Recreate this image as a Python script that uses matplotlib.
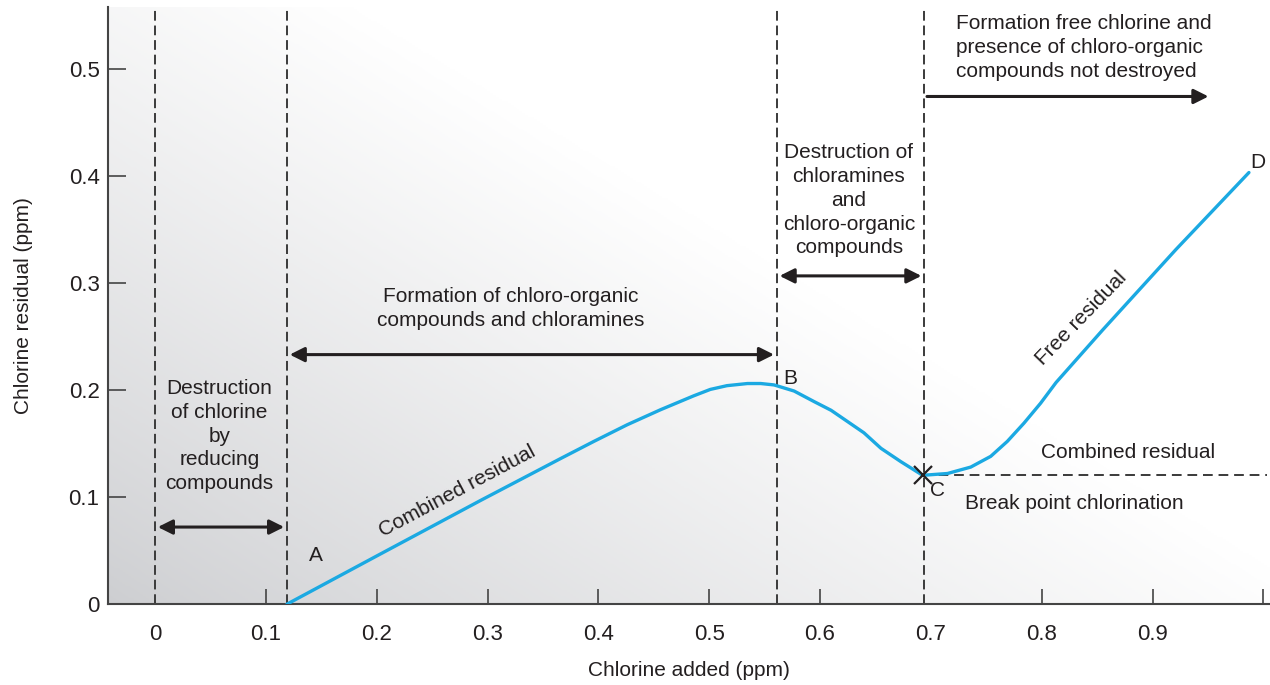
import matplotlib
matplotlib.use("Agg")
import matplotlib.pyplot as plt
import numpy as np
from matplotlib.colors import LinearSegmentedColormap

plt.rcParams['font.family'] = ['Liberation Sans', 'DejaVu Sans']

# curve (chlorine added, chlorine residual)
curve_x = [0.119, 0.200, 0.294, 0.366, 0.396, 0.426, 0.456, 0.486, 0.501, 0.516,
           0.5345, 0.5465, 0.5585, 0.5766, 0.5949, 0.610, 0.6396, 0.655, 0.673, 0.6926,
           0.715, 0.736, 0.754, 0.769, 0.784, 0.799, 0.813, 0.855, 0.921, 0.987]
curve_y = [0.0, 0.045, 0.097, 0.136, 0.152, 0.1675, 0.1815, 0.1945, 0.2005, 0.204,
           0.206, 0.206, 0.2047, 0.199, 0.189, 0.181, 0.160, 0.1455, 0.133, 0.1203,
           0.122, 0.128, 0.138, 0.152, 0.169, 0.1876, 0.207, 0.256, 0.331, 0.403]

zone_lines = [0.0, 0.119, 0.561, 0.694]
break_x, break_y = 0.6926, 0.1203

xtick_marks = [0.1, 0.2, 0.3, 0.4, 0.5, 0.6, 0.8, 0.9, 1.0]
xtick_pos = [0, 0.1, 0.2, 0.3, 0.4, 0.5, 0.6, 0.7, 0.8, 0.9]
xtick_labels = ['0', '0.1', '0.2', '0.3', '0.4', '0.5', '0.6', '0.7', '0.8', '0.9']
ytick_pos = [0, 0.1, 0.2, 0.3, 0.4, 0.5]
ytick_labels = ['0', '0.1', '0.2', '0.3', '0.4', '0.5']

ink = '#231f20'
blue = '#1ba9e2'

fig = plt.figure(figsize=(12.7, 6.85), dpi=100)
ax = fig.add_axes([0.085, 0.118, 0.915, 0.8725])
ax.set_xlim(-0.0425, 1.006)
ax.set_ylim(0, 0.558)

# grey background fading to white towards the top right
u = np.linspace(0, 1, 400)
v = np.linspace(0, 1, 300)
U, V = np.meshgrid(u, v)
t = np.clip(0.95 * U + 0.8 * V, 0, 1) ** 0.85
cm = LinearSegmentedColormap.from_list('bg', ['#cdced1', '#ffffff'])
ax.imshow(t, cmap=cm, origin='lower', extent=(0, 1, 0, 1), transform=ax.transAxes,
          aspect='auto', zorder=0, vmin=0, vmax=1)

for xv in zone_lines:
    ax.axvline(xv, color='#3a3a3a', lw=1.4, dashes=(5, 2.5), zorder=2)

ax.plot([break_x, 1.003], [break_y, break_y], color='#3a3a3a', lw=1.4, dashes=(5, 3), zorder=2)
ax.plot(curve_x, curve_y, color=blue, lw=2.4, zorder=3, solid_capstyle='round',
        solid_joinstyle='round')
ax.plot([break_x], [break_y], marker='x', ms=13, mew=1.6, color=ink, zorder=4)

def arrow(x0, x1, y, both=True):
    ax.annotate('', xy=(x1, y), xytext=(x0, y),
                arrowprops=dict(arrowstyle='<|-|>' if both else '-|>', color=ink, lw=2.2,
                                mutation_scale=22, shrinkA=2, shrinkB=2), zorder=5)

arrow(0.0, 0.119, 0.072)
arrow(0.119, 0.561, 0.233)
arrow(0.561, 0.694, 0.3065)
arrow(0.694, 0.953, 0.474, both=False)

fs = 15
ls = 1.32
ax.text(0.058, 0.157, 'Destruction\nof chlorine\nby\nreducing\ncompounds', ha='center', va='center',
        fontsize=fs, color=ink, linespacing=ls)
ax.text(0.321, 0.276, 'Formation of chloro-organic\ncompounds and chloramines', ha='center',
        va='center', fontsize=fs, color=ink, linespacing=ls)
ax.text(0.626, 0.377, 'Destruction of\nchloramines\nand\nchloro-organic\ncompounds', ha='center',
        va='center', fontsize=fs, color=ink, linespacing=ls)
ax.text(0.7227, 0.52, 'Formation free chlorine and\npresence of chloro-organic\ncompounds not destroyed',
        ha='left', va='center', fontsize=fs, color=ink, linespacing=ls)
ax.text(0.273, 0.105, 'Combined residual', rotation=28, rotation_mode='anchor', ha='center',
        va='center', fontsize=fs, color=ink)
ax.text(0.836, 0.267, 'Free residual', rotation=46, rotation_mode='anchor', ha='center',
        va='center', fontsize=fs, color=ink)
ax.text(0.878, 0.142, 'Combined residual', ha='center', va='center', fontsize=fs, color=ink)
ax.text(0.829, 0.094, 'Break point chlorination', ha='center', va='center', fontsize=fs, color=ink)

for lab, lx, ly in [('A', 0.145, 0.045), ('B', 0.573, 0.211), ('C', 0.706, 0.106), ('D', 0.995, 0.412)]:
    ax.text(lx, ly, lab, ha='center', va='center', fontsize=fs, color=ink)

for s in ['top', 'right']:
    ax.spines[s].set_visible(False)
for s in ['left', 'bottom']:
    ax.spines[s].set_color('#444444')
    ax.spines[s].set_linewidth(1.5)

ax.xaxis.remove_overlapping_locs = False
ax.set_xticks(xtick_pos)
ax.set_xticklabels(xtick_labels)
ax.set_xticks(xtick_marks, minor=True)
ax.tick_params(axis='x', which='major', length=0, pad=14, labelsize=16, labelcolor=ink)
ax.tick_params(axis='x', which='minor', direction='in', length=11, width=1.2, color='#444444')
ax.set_yticks(ytick_pos)
ax.set_yticklabels(ytick_labels)
ax.tick_params(axis='y', direction='in', length=13, width=1.2, color='#444444', pad=6,
               labelsize=16, labelcolor=ink)

ax.set_xlabel('Chlorine added (ppm)', fontsize=fs, color=ink, labelpad=12)
ax.set_ylabel('Chlorine residual (ppm)', fontsize=fs, color=ink, labelpad=26)

fig.savefig('out.png', dpi=100)
